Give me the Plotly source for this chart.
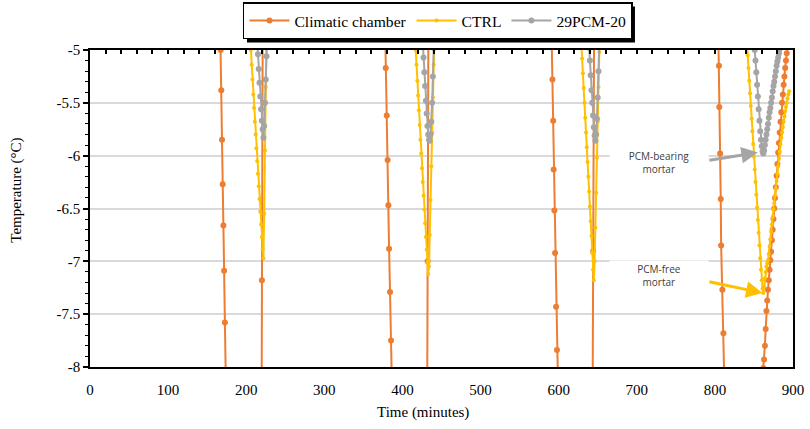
import plotly.graph_objects as go

# Climatic chamber air temperature (°C) against time (min); None separates cycles
chamber_time = [166.2, 167.3, 168.1, 169.0, 169.9, 170.8, 171.7, 172.7, 173.7, 174.6, None,
                219.6, 220.1, 221.3, None,
                377.7, 378.6, 379.9, 381.0, 382.0, 382.9, 384.1, 385.4, 386.6, None,
                431.6, 432.2, 433.4, None,
                590.9, 592.0, 593.0, 593.6, 594.5, 595.4, 596.7, 597.8, 599.5, None,
                643.4, 644.2, 645.5, None,
                804.2, 805.2, 805.6, 806.7, 807.5, 808.0, 809.6, 810.9, 812.0, None,
                860, 861, 862, 863, 864, 865, 866, 867, 868, 869, 870, 871, 872, 873, 874,
                875, 876, 877, 878, 879, 880, 881, 882, 883, 884, 885, 886, 887, 888, 889,
                890, 891, 892, 893, 894]
chamber_temp = [-4.57, -5.00, -5.38, -5.85, -6.27, -6.66, -7.09, -7.58, -8.03, -8.45, None,
                -8.60, -7.18, -4.30, None,
                -4.74, -5.17, -5.62, -6.04, -6.47, -6.88, -7.29, -7.75, -8.20, None,
                -8.50, -7.00, -4.40, None,
                -4.85, -5.28, -5.67, -6.13, -6.52, -6.92, -7.43, -7.84, -8.30, None,
                -8.40, -6.90, -4.50, None,
                -4.75, -5.15, -5.54, -5.98, -6.41, -6.85, -7.27, -7.68, -8.10, None,
                -8.20, -8.11, -8.01, -7.93, -7.80, -7.64, -7.47, -7.37, -7.27, -7.18, -7.08,
                -6.99, -6.91, -6.80, -6.70, -6.60, -6.50, -6.40, -6.30, -6.19, -6.08, -5.97,
                -5.88, -5.78, -5.68, -5.59, -5.50, -5.42, -5.33, -5.25, -5.17, -5.10, -5.03,
                -4.96, -4.89]

# PCM-free mortar (CTRL)
ctrl_time = [205, 206, 207, 208, 209, 210, 211, 212, 213, 214, 215, 216, 217, 218, 219, 220,
             221, 222, 223, 224, 225, 226, None,
             417, 418, 419, 420, 421, 422, 423, 424, 425, 426, 427, 428, 429, 430, 431, 432,
             433, 434, 435, 436, 437, 438, 439, 440, 441, None,
             629, 630, 631, 632, 633, 634, 635, 636, 637, 638, 639, 640, 641, 642, 643, 644,
             645, 646, 647, 648, 649, 650, 651, 652, 653, None,
             841, 842, 843, 844, 845, 846, 847, 848, 849, 850, 851, 852, 853, 854, 855, 856,
             857, 858, 859, 860, 861, 862, 863, 864, 865, 866, 867, 868, 869, 870, 871, 872,
             873, 874, 875, 876, 877, 878, 879, 880, 881, 882, 883, 884, 885, 886, 887, 888,
             889, 890, 891, 892, 893, 894, 895, 896, 897, 898, 899, 900, 901]
ctrl_temp = [-4.88, -5.00, -5.14, -5.28, -5.42, -5.55, -5.68, -5.80, -5.93, -6.05, -6.17, -6.29,
             -6.41, -6.53, -6.65, -6.77, -6.88, -6.97, -6.55, -5.95, -5.35, -4.80, None,
             -5.00, -5.14, -5.29, -5.43, -5.57, -5.71, -5.85, -5.98, -6.12, -6.25, -6.38, -6.51,
             -6.64, -6.77, -6.89, -7.01, -7.12, -7.05, -6.75, -6.42, -6.10, -5.78, -5.45, -5.14,
             -4.85, None,
             -4.94, -5.08, -5.22, -5.36, -5.50, -5.64, -5.78, -5.92, -6.06, -6.20, -6.34, -6.48,
             -6.62, -6.76, -6.92, -7.08, -7.18, -7.00, -6.68, -6.35, -6.02, -5.68, -5.35, -5.02,
             -4.70, None,
             -4.93, -5.05, -5.17, -5.29, -5.41, -5.53, -5.65, -5.77, -5.89, -6.01, -6.13, -6.25,
             -6.37, -6.49, -6.61, -6.73, -6.85, -6.97, -7.08, -7.18, -7.26, -7.30, -7.24, -7.16,
             -7.10, -7.05, -7.02, -6.99, -6.93, -6.86, -6.79, -6.72, -6.65, -6.58, -6.51, -6.45,
             -6.38, -6.31, -6.24, -6.17, -6.10, -6.03, -5.96, -5.89, -5.83, -5.78, -5.73, -5.68,
             -5.63, -5.58, -5.54, -5.50, -5.46, -5.42, -5.39]

# PCM-bearing mortar (29PCM-20)
pcm_time = [214, 215, 216, 217, 218, 219, 220, 221, 222, 223, 224, 225, 226, 227, None,
            426, 427, 428, 429, 430, 431, 432, 433, 434, 435, 436, 437, 438, 439, 440, 441, None,
            638, 639, 640, 641, 642, 643, 644, 645, 646, 647, 648, 649, 650, 651, 652, None,
            850, 851, 852, 853, 854, 855, 856, 857, 858, 859, 860, 861, 862, 863, 864, 865,
            866, 867, 868, 869, 870, 871, 872, 873, 874, 875, 876, 877, 878, 879, 880, 881,
            882, 883, 884]
pcm_temp = [-4.92, -5.04, -5.18, -5.31, -5.44, -5.56, -5.67, -5.75, -5.83, -5.72, -5.50, -5.28,
            -5.06, -4.85, None,
            -4.93, -5.07, -5.21, -5.34, -5.48, -5.60, -5.72, -5.80, -5.85, -5.86, -5.80, -5.68,
            -5.50, -5.25, -4.98, -4.75, None,
            -4.86, -4.98, -5.10, -5.24, -5.38, -5.50, -5.62, -5.73, -5.81, -5.86, -5.80, -5.65,
            -5.45, -5.20, -4.95, None,
            -4.95, -5.00, -5.10, -5.21, -5.33, -5.44, -5.56, -5.67, -5.77, -5.85, -5.91, -5.96,
            -5.98, -5.95, -5.90, -5.85, -5.80, -5.75, -5.70, -5.64, -5.59, -5.55, -5.50, -5.45,
            -5.39, -5.34, -5.30, -5.25, -5.20, -5.15, -5.11, -5.07, -5.03, -4.99, -4.95]

x_ticks = [0, 100, 200, 300, 400, 500, 600, 700, 800, 900]
y_ticks = [-8, -7.5, -7, -6.5, -6, -5.5, -5]
y_tick_text = ["-8", "-7.5", "-7", "-6.5", "-6", "-5.5", "-5"]

ORANGE = "#ED7D31"
YELLOW = "#FFC000"
GREY = "#A5A5A5"
SERIF = "Liberation Serif, Times New Roman, serif"

fig = go.Figure()
fig.add_trace(go.Scatter(x=chamber_time, y=chamber_temp, name="Climatic chamber",
                         mode="lines+markers", line=dict(color=ORANGE, width=2),
                         marker=dict(color=ORANGE, size=6)))
fig.add_trace(go.Scatter(x=ctrl_time, y=ctrl_temp, name="CTRL",
                         mode="lines+markers", line=dict(color=YELLOW, width=2),
                         marker=dict(color=YELLOW, size=4)))
fig.add_trace(go.Scatter(x=pcm_time, y=pcm_temp, name="29PCM-20",
                         mode="lines+markers", line=dict(color=GREY, width=2),
                         marker=dict(color=GREY, size=6)))
# invisible trace carrying the upper tick axis
fig.add_trace(go.Scatter(x=[None], y=[None], xaxis="x2", showlegend=False,
                         hoverinfo="skip"))

fig.update_layout(
    width=810, height=429,
    margin=dict(l=90, r=17, t=50, b=62, autoexpand=False),
    plot_bgcolor="white", paper_bgcolor="white",
    font=dict(family=SERIF, size=15, color="#000000"),
    showlegend=True,
    legend=dict(orientation="h", x=0.2176, xanchor="left", y=1.15, yanchor="top",
                bgcolor="white", bordercolor="black", borderwidth=1.5,
                font=dict(family=SERIF, size=15.6), itemwidth=40),
    xaxis=dict(range=[0, 900], tickvals=x_ticks, ticks="", showgrid=False,
               showline=True, linecolor="black", linewidth=1.5, zeroline=False,
               tickfont=dict(family=SERIF, size=15), ticklabelstandoff=8),
    xaxis2=dict(range=[0, 900], overlaying="x", side="top", anchor="y",
                dtick=20, tick0=0, ticks="inside", ticklen=4, tickwidth=1.5,
                tickcolor="black", showticklabels=False, showgrid=False,
                showline=True, linecolor="black", linewidth=2, zeroline=False),
    yaxis=dict(range=[-8, -5], tickvals=y_ticks, ticktext=y_tick_text,
               ticks="outside", ticklen=5, tickwidth=1.5, tickcolor="black",
               minor=dict(dtick=0.1, tick0=-8, ticks="outside", ticklen=3,
                          tickcolor="black", tickwidth=1, showgrid=False),
               showgrid=True, gridcolor="#D9D9D9", gridwidth=1.5,
               showline=True, linecolor="black", linewidth=1.5, mirror=True,
               zeroline=False, tickfont=dict(family=SERIF, size=15)),
)

# axis titles
fig.add_annotation(text="Time (minutes)", x=426, xref="x", y=-0.145, yref="paper",
                   xanchor="center", yanchor="middle", showarrow=False,
                   font=dict(family=SERIF, size=15))
fig.add_annotation(text="Temperature (°C)", x=-0.105, xref="paper", y=-6.33, yref="y",
                   xanchor="center", yanchor="middle", textangle=-90, showarrow=False,
                   font=dict(family=SERIF, size=15))

# callouts for the two mortars
NOTE_FONT = dict(family="Open Sans, Liberation Sans, sans-serif", size=10, color="#404040")
fig.add_annotation(text="PCM-bearing<br>mortar", x=728, y=-6.06, xref="x", yref="y",
                   xanchor="center", showarrow=False, bgcolor="white", width=96,
                   font=NOTE_FONT)
fig.add_annotation(text="PCM-free<br>mortar", x=728, y=-7.13, xref="x", yref="y",
                   xanchor="center", showarrow=False, bgcolor="white", width=96,
                   font=NOTE_FONT)
fig.add_annotation(text="", x=855, y=-5.97, xref="x", yref="y",
                   ax=791, ay=-6.045, axref="x", ayref="y", showarrow=True,
                   arrowhead=2, arrowsize=1.1, arrowwidth=3, arrowcolor=GREY)
fig.add_annotation(text="", x=861, y=-7.3, xref="x", yref="y",
                   ax=791, ay=-7.19, axref="x", ayref="y", showarrow=True,
                   arrowhead=2, arrowsize=1.1, arrowwidth=3, arrowcolor=YELLOW)

# drop shadow behind the legend box
fig.add_shape(type="rect", xref="paper", yref="paper", x0=0.2233, x1=0.7752,
              y0=1.0237, y1=1.137, fillcolor="black", line=dict(width=0), layer="below")

fig.write_html("out.html")
